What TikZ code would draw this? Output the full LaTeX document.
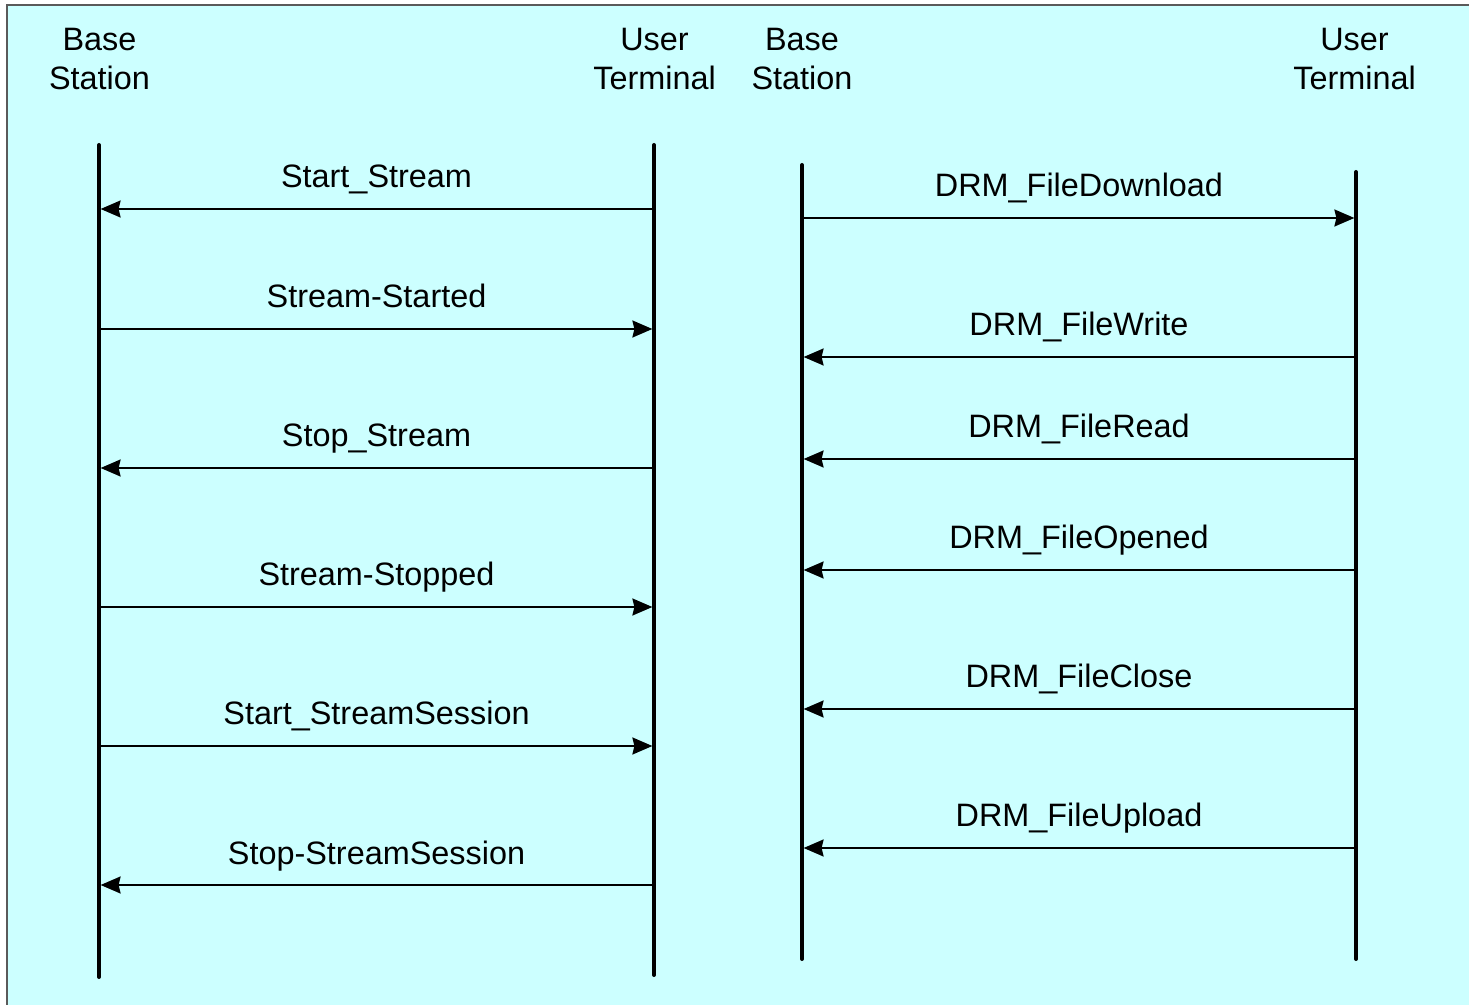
\documentclass[tikz,border=0pt]{standalone}
\usepackage{fontspec}
\setmainfont{Liberation Sans}
\usetikzlibrary{arrows.meta}
\definecolor{panel}{HTML}{CCFFFF}
\definecolor{frame}{HTML}{5A5A5A}
\tikzset{
  lifeline/.style={line width=2pt, line cap=round},
  msg/.style={line width=1pt, -{Stealth[length=10pt,width=8.5pt,inset=1pt]}, shorten >=0.8pt},
  msglabel/.style={anchor=base, inner sep=0pt, font=\fontsize{16.2}{19.5}\selectfont},
  party/.style={anchor=base, inner sep=0pt, align=center, font=\fontsize{16.2}{19.5}\selectfont},
}
\begin{document}
\begin{tikzpicture}[x=0.5pt,y=-0.5pt]
  \useasboundingbox (0,0) rectangle (1469,1005);
  \begin{scope}
    \clip (0,0) rectangle (1469,1005);
    \draw[frame, line width=0.8pt, fill=panel] (7,5) rectangle (1490,1030);
  \end{scope}

  % participants (base anchor sits on the second line)
  \node[party] (bsA) at (99.5,90) {Base\\Station};
  \node[party] (utA) at (654.5,90) {User\\Terminal};
  \node[party] (bsB) at (802,90) {Base\\Station};
  \node[party] (utB) at (1354.5,90) {User\\Terminal};

  % lifelines
  \coordinate (bsAtop) at (99,145);   \coordinate (bsAbot) at (99,977);
  \coordinate (utAtop) at (654,145);  \coordinate (utAbot) at (654,975);
  \coordinate (bsBtop) at (802,165);  \coordinate (bsBbot) at (802,959);
  \coordinate (utBtop) at (1356,172); \coordinate (utBbot) at (1356,959);
  \draw[lifeline] (bsAtop) -- (bsAbot);
  \draw[lifeline] (utAtop) -- (utAbot);
  \draw[lifeline] (bsBtop) -- (bsBbot);
  \draw[lifeline] (utBtop) -- (utBbot);

  % streaming messages
  \foreach \y/\dir/\txt [count=\i] in {
      209/l/Start\_Stream,
      329/r/Stream-Started,
      468/l/Stop\_Stream,
      607/r/Stream-Stopped,
      746/r/Start\_StreamSession,
      885/l/Stop-StreamSession} {
    \coordinate (a\i) at (bsAtop |- 0,\y);
    \coordinate (b\i) at (utAtop |- 0,\y);
    \if l\dir
      \draw[msg] (b\i) -- (a\i);
    \else
      \draw[msg] (a\i) -- (b\i);
    \fi
    \node[msglabel] (la\i) at (376.5,\y-21) {\txt};
  }

  % file transfer messages
  \foreach \y/\dir/\txt [count=\i] in {
      218/r/DRM\_FileDownload,
      357/l/DRM\_FileWrite,
      459/l/DRM\_FileRead,
      570/l/DRM\_FileOpened,
      709/l/DRM\_FileClose,
      848/l/DRM\_FileUpload} {
    \coordinate (c\i) at (bsBtop |- 0,\y);
    \coordinate (d\i) at (utBtop |- 0,\y);
    \if l\dir
      \draw[msg] (d\i) -- (c\i);
    \else
      \draw[msg] (c\i) -- (d\i);
    \fi
    \node[msglabel] (lb\i) at (1079,\y-21) {\txt};
  }
\end{tikzpicture}
\end{document}
